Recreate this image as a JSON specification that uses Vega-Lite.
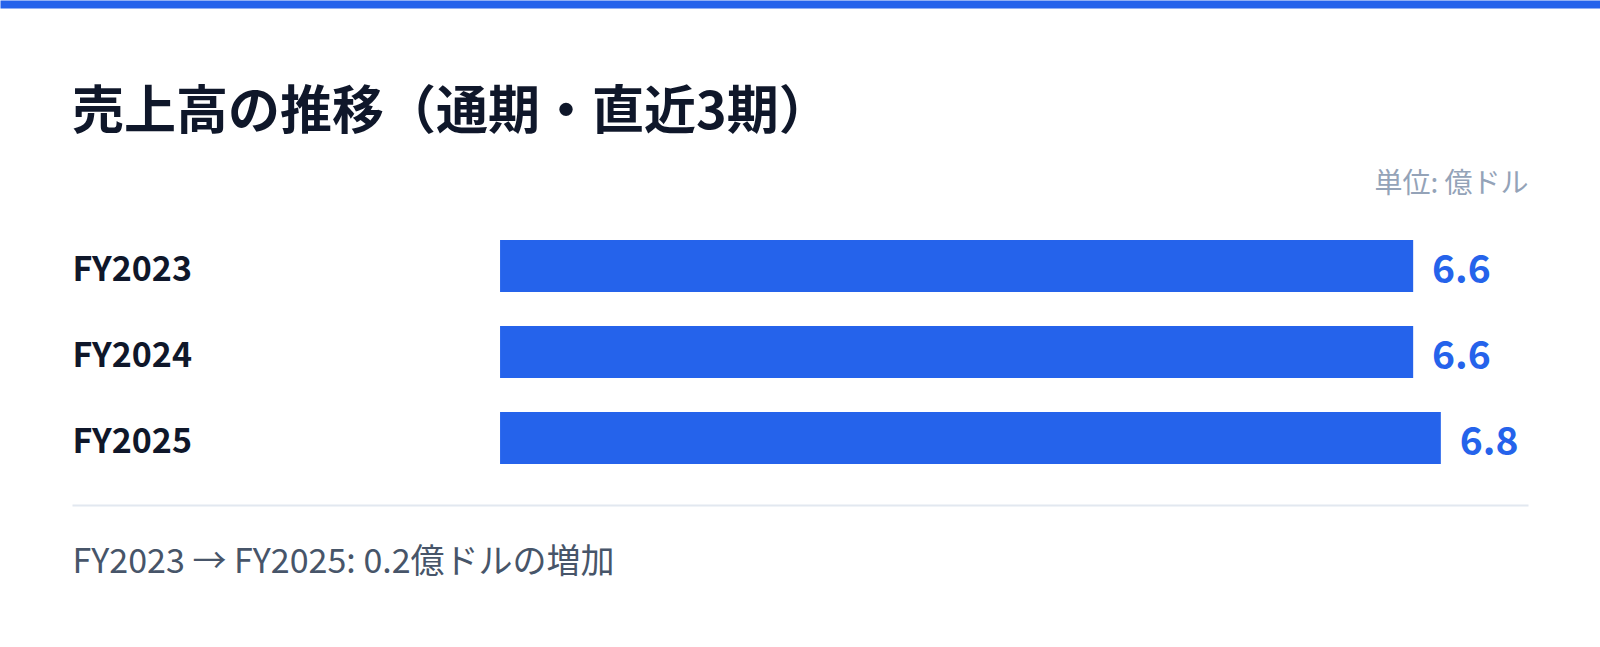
{
  "$schema": "https://vega.github.io/schema/vega-lite/v6.json",
  "width": 1600,
  "height": 647,
  "autosize": {"type": "none"},
  "padding": 0,
  "background": "#ffffff",
  "title": {
    "text": "売上高の推移（通期・直近3期）",
    "anchor": "start",
    "frame": "group",
    "baseline": "alphabetic",
    "dx": 72,
    "dy": 185,
    "font": "Noto Sans CJK JP",
    "fontSize": 52,
    "fontWeight": 700,
    "color": "#0f172a"
  },
  "data": {
    "values": [
      {"period": "FY2023", "sales": 6.6},
      {"period": "FY2024", "sales": 6.6},
      {"period": "FY2025", "sales": 6.8}
    ]
  },
  "layer": [
    {
      "mark": {"type": "bar", "color": "#2563eb"},
      "encoding": {
        "y": {
          "field": "period",
          "type": "nominal",
          "sort": null,
          "scale": {"range": [199, 505], "paddingInner": 0.395, "paddingOuter": 0.477},
          "axis": {
            "orient": "left",
            "offset": -72,
            "title": null,
            "domain": false,
            "ticks": false,
            "tickSize": 0,
            "labelPadding": 0,
            "labelAlign": "left",
            "labelOffset": 5,
            "labelFont": "Noto Sans CJK JP",
            "labelFontSize": 34,
            "labelFontWeight": 700,
            "labelColor": "#0f172a"
          }
        },
        "x": {
          "field": "sales",
          "type": "quantitative",
          "scale": {"domain": [-3.094, 7.43], "range": [72, 1528], "nice": false, "zero": false},
          "axis": {
            "orient": "bottom",
            "offset": -142,
            "grid": false,
            "labels": false,
            "ticks": false,
            "domainColor": "#e2e8f0",
            "domainWidth": 2,
            "title": "FY2023 → FY2025: 0.2億ドルの増加",
            "titleAnchor": "start",
            "titleAlign": "left",
            "titlePadding": 40,
            "titleFont": "Noto Sans CJK JP",
            "titleFontSize": 34,
            "titleFontWeight": 400,
            "titleColor": "#475569"
          }
        }
      }
    },
    {
      "mark": {
        "type": "text",
        "align": "left",
        "baseline": "middle",
        "dx": 19,
        "dy": 5,
        "font": "Noto Sans CJK JP",
        "fontSize": 39,
        "fontWeight": 700,
        "color": "#2563eb"
      },
      "encoding": {
        "y": {"field": "period", "type": "nominal", "sort": null},
        "x": {
          "field": "sales",
          "type": "quantitative",
          "scale": {"domain": [-3.614, 7.951], "range": [0, 1600], "nice": false, "zero": false},
          "axis": {
            "orient": "top",
            "offset": -4,
            "grid": false,
            "labels": false,
            "ticks": false,
            "domainColor": "#2563eb",
            "domainWidth": 8,
            "title": "単位: 億ドル",
            "titleX": 1528,
            "titleY": 166,
            "titleAlign": "right",
            "titleBaseline": "top",
            "titleFont": "Noto Sans CJK JP",
            "titleFontSize": 28,
            "titleFontWeight": 400,
            "titleColor": "#94a3b8"
          }
        },
        "text": {"field": "sales", "type": "quantitative", "format": ".1f"}
      }
    }
  ],
  "resolve": {"scale": {"x": "independent"}, "axis": {"x": "independent"}},
  "config": {
    "view": {"stroke": null},
    "font": "Noto Sans CJK JP"
  }
}
